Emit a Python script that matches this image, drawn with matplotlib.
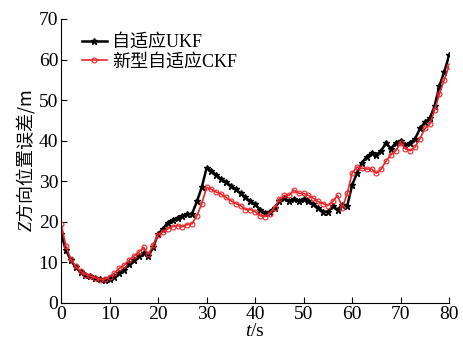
import numpy as np
import matplotlib
matplotlib.use('Agg')
from matplotlib import pyplot as plt

plt.rcParams['font.family'] = ['Liberation Serif', 'Noto Sans CJK SC']
# mixed math / CJK labels: math italic in serif
plt.rcParams['mathtext.fontset'] = 'custom'
plt.rcParams['mathtext.rm'] = 'Noto Sans CJK SC'
plt.rcParams['mathtext.it'] = 'Liberation Serif:italic'

# time axis (s)
t = np.arange(0, 81)

# Z position error of adaptive UKF (m)
ukf = [17, 13, 10.5, 8.8, 7.6, 7.0, 6.6, 6.2, 5.8, 5.6,
       5.8, 6.5, 7.4, 8.2, 9.5, 10.5, 11.5, 12.3, 11.5, 13.8,
       17, 18.3, 19.8, 20.5, 21, 21.5, 21.8, 22, 25, 28.5,
       33.3, 32.5, 31.5, 30.5, 29.8, 28.8, 28, 27, 26, 25,
       24.3, 23, 22.2, 22.5, 23.5, 25, 25.8, 25, 25.5, 25.2,
       25.5, 25, 24.3, 23.5, 22.5, 22.5, 23.8, 23, 24.2, 24,
       29, 32, 34.5, 36, 37, 36.5, 37.5, 39.5, 38, 39.5,
       40, 39, 39.5, 40.5, 43, 44.5, 45.5, 48.5, 53.5, 57, 61]

# Z position error of new adaptive CKF (m)
ckf = [19.5, 14, 10.8, 9, 7.8, 7.0, 6.6, 6.2, 5.7, 5.8,
       6.5, 7.3, 8.5, 9.3, 10.5, 11.5, 12.5, 13.7, 12, 14.3,
       16.8, 17.5, 18.3, 18.8, 19, 18.8, 19.3, 19.5, 21.5, 24.5,
       28.5, 28, 27.3, 26.8, 26, 25.2, 24.5, 24, 23, 23,
       22.5, 21.5, 21.3, 22, 23.5, 25.5, 26.5, 26.5, 27.8, 27,
       27, 26.5, 25.8, 25, 24.5, 24, 25, 26.5, 23.5, 27,
       32, 33.5, 33.2, 33, 33, 32, 33, 35, 36.5, 37.5,
       39.5, 38, 37.5, 38.5, 40.5, 43, 44, 47.5, 51.5, 55, 58.5]

fig = plt.figure(figsize=(4.63, 3.51), dpi=100)
ax = fig.add_axes([0.132, 0.137, 0.838, 0.809])

ax.plot(t, ukf, color='black', lw=1.8, marker='*', ms=5, label='自适应UKF')
ax.plot(t, ckf, color='#e8262a', lw=1.2, marker='o', ms=3.5, mfc='none',
        mew=0.8, label='新型自适应CKF')

ax.set_xlim(0, 80)
ax.set_ylim(0, 70)
ax.set_xticks(range(0, 81, 10))
ax.set_yticks(range(0, 71, 10))
ax.spines['top'].set_visible(False)
ax.spines['right'].set_visible(False)
ax.tick_params(direction='in', length=4, labelsize=14, pad=2)
ax.set_xlabel(r'$t$/s', fontsize=14, labelpad=0)
ax.set_ylabel(r'$Z$方向位置误差/m', fontsize=13, labelpad=1,
              fontfamily='Noto Sans CJK SC')

ax.legend(loc='upper left', bbox_to_anchor=(0.025, 0.985), frameon=False,
          fontsize=13, handlelength=1.4, handletextpad=0.3,
          labelspacing=0.15, borderaxespad=0.2)

fig.savefig('out.png', dpi=100)
